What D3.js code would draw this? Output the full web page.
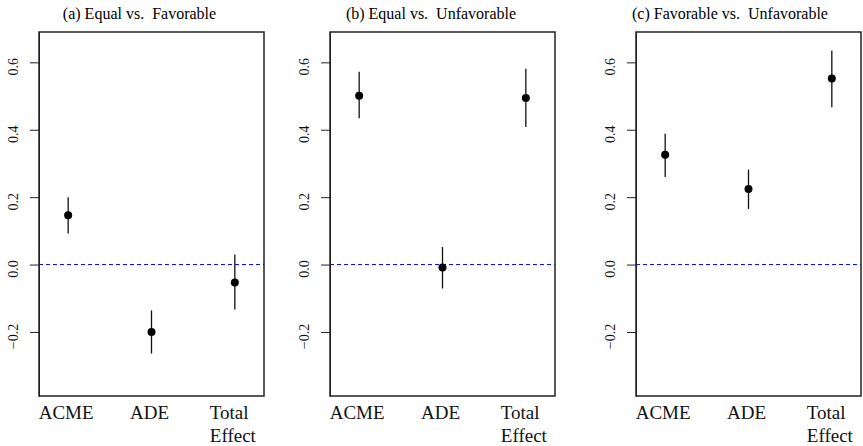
<!DOCTYPE html>
<html>
<head>
    <meta charset="utf-8">
    <title>Mediation effects</title>
    <style>
        body{ margin: 0; background: white; }
        svg{ display: block; }
        svg text{ font-family: "Liberation Serif", "Times New Roman", "DejaVu Serif", serif; }
    </style>
    <script src="https://d3js.org/d3.v7.min.js"></script>
</head>
<body>
    <svg width="863" height="446"></svg>

    <script>
        // Daten
        const categories = ["ACME", "ADE", "Total\nEffect"];
        const panelTitles = ["(a) Equal vs.\u00a0 Favorable", "(b) Equal vs.\u00a0 Unfavorable", "(c) Favorable vs.\u00a0 Unfavorable"];
        const estimates = [[0.146, -0.200, -0.053], [0.501, -0.009, 0.494], [0.326, 0.224, 0.552]];
        const lower     = [[0.092, -0.264, -0.133], [0.434, -0.071, 0.408], [0.260, 0.165, 0.467]];
        const upper     = [[0.200, -0.136, 0.030], [0.572, 0.052, 0.581], [0.388, 0.282, 0.635]];
        const yTicks = [-0.2, 0.0, 0.2, 0.4, 0.6];

        // Layout
        const panelLeft = [39, 330, 636];
        const titleCenter = [139.5, 431, 730];
        const pw = 225, plotTop = 32, plotBottom = 396;
        const serif = "'Liberation Serif', 'Times New Roman', serif";

        const svg = d3.select("svg");
        const y = d3.scaleLinear().domain([-0.39, 0.69]).range([plotBottom, plotTop]);
        const fmt = d3.format(".1f");

        for(let p=0;p<3;p++){
            const x = d3.scaleLinear().domain([0.65, 3.35]).range([panelLeft[p], panelLeft[p]+pw]);
            const g = svg.append("g");

            // Titel
            g.append("text")
                .attr("x", titleCenter[p])
                .attr("y", 19)
                .attr("text-anchor", "middle")
                .style("font-family", serif)
                .style("font-size", "16px")
                .text(panelTitles[p]);

            // y-Achse
            const ax = g.append("g")
                .attr("transform", "translate("+panelLeft[p]+",0)")
                .call(d3.axisLeft(y).tickValues(yTicks).tickFormat(fmt).tickSize(9).tickSizeOuter(0));
            ax.attr("font-family", null);
            ax.select(".domain").attr("stroke", "#222");
            ax.selectAll(".tick line").attr("stroke", "#222");
            ax.selectAll(".tick text")
                .attr("x", null).attr("dy", null)
                .attr("transform", "translate(-21,4) rotate(-90)")
                .attr("text-anchor", "middle")
                .attr("fill", "#111")
                .style("font-family", serif)
                .style("font-size", "14px");

            // Nulllinie
            g.append("line")
                .attr("x1", panelLeft[p]).attr("x2", panelLeft[p]+pw)
                .attr("y1", y(0)).attr("y2", y(0))
                .attr("stroke", "blue")
                .attr("stroke-width", 1)
                .attr("stroke-dasharray", "4,3");

            // Konfidenzintervalle und Punkte
            for(let i=0;i<categories.length;i++){
                g.append("line")
                    .attr("x1", x(i+1)).attr("x2", x(i+1))
                    .attr("y1", y(lower[p][i])).attr("y2", y(upper[p][i]))
                    .attr("stroke", "#111")
                    .attr("stroke-width", 1.3);
                g.append("circle")
                    .attr("cx", x(i+1))
                    .attr("cy", y(estimates[p][i]))
                    .attr("r", 4)
                    .attr("fill", "black");

                // Kategorienbeschriftung
                const lines = categories[i].split("\n");
                const t = g.append("text")
                    .attr("y", 419)
                    .style("font-family", serif)
                    .style("font-size", "19px")
                    .attr("fill", "#111");
                lines.forEach((l, k) => {
                    t.append("tspan").attr("dy", k==0 ? 0 : 22.5).text(l);
                });
                const widths = [];
                t.selectAll("tspan").each(function(){ widths.push(this.getComputedTextLength()); });
                const wmax = d3.max(widths);
                t.selectAll("tspan").attr("x", x(i+1) - 2 - wmax/2);
            }

            // Rahmen
            g.append("rect")
                .attr("x", panelLeft[p]).attr("y", plotTop)
                .attr("width", pw).attr("height", plotBottom-plotTop)
                .attr("fill", "none")
                .attr("stroke", "#222")
                .attr("stroke-width", 1.5);
        }
    </script>
</body>
</html>
